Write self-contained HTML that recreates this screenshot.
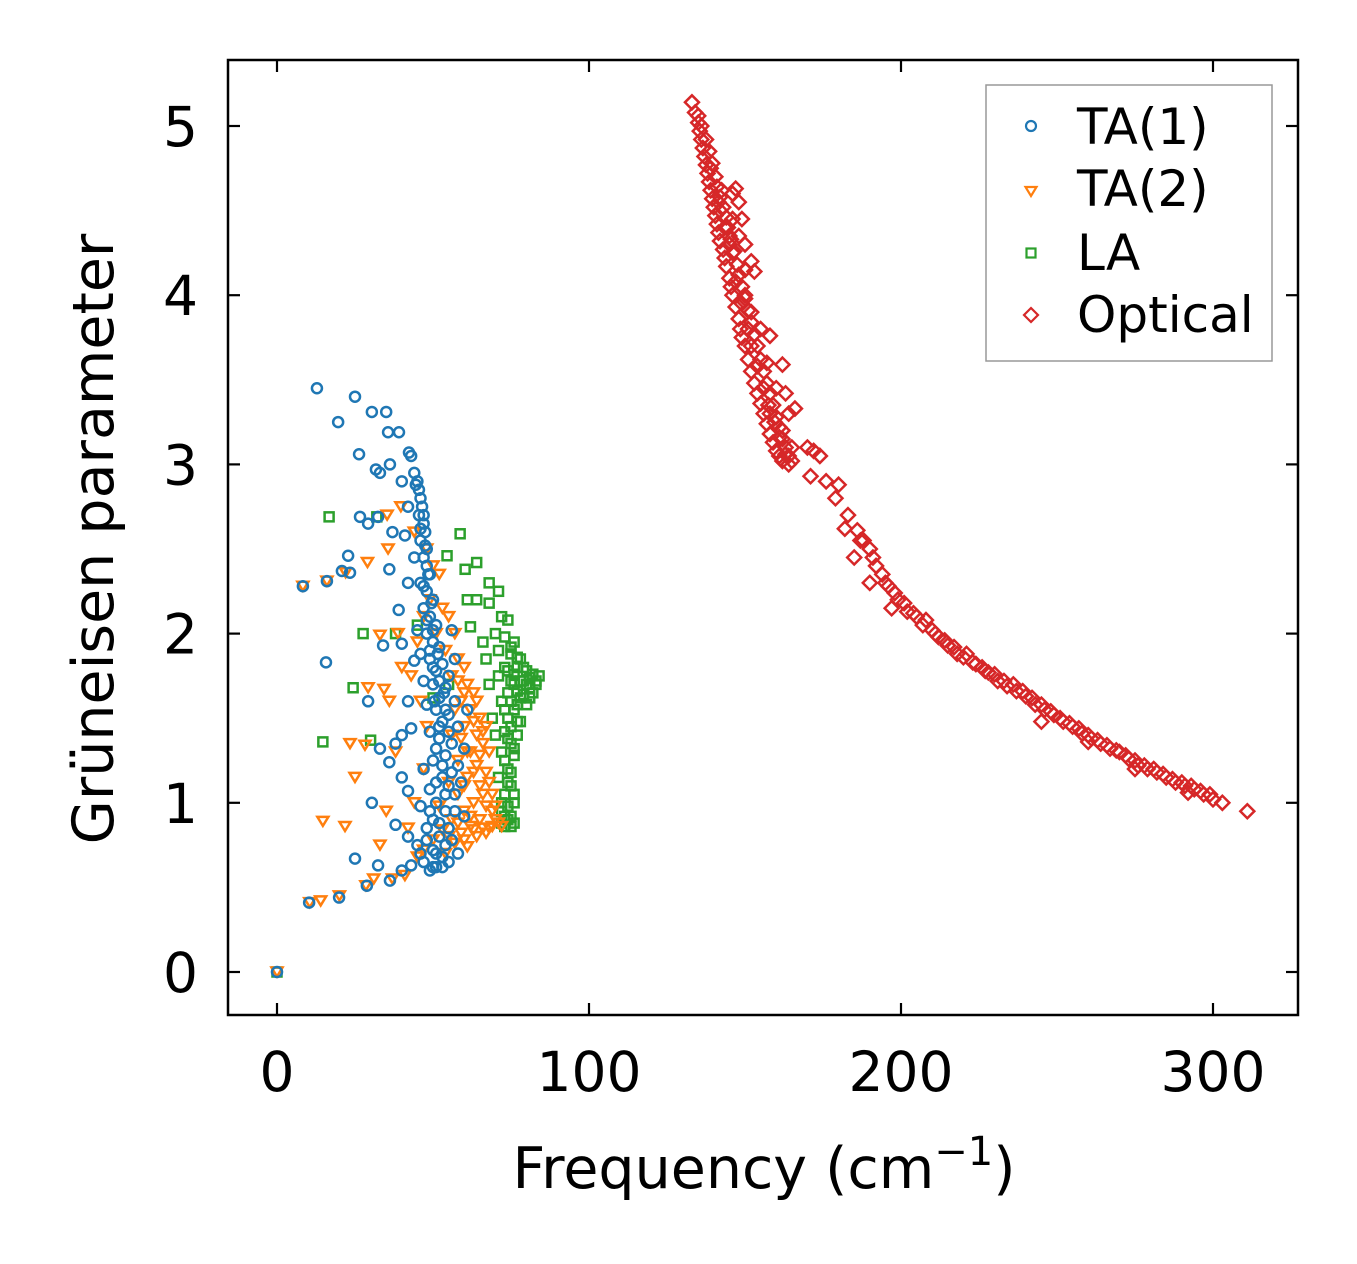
<!DOCTYPE html>
<html><head><meta charset="utf-8"><style>
html,body{margin:0;padding:0;background:#fff;}
svg{display:block;font-family:"DejaVu Sans","Liberation Sans",sans-serif;}
</style></head><body>
<svg id="chart" width="1357" height="1264" viewBox="0 0 1357 1264" xmlns="http://www.w3.org/2000/svg">
<rect width="1357" height="1264" fill="#fff"/>
<g id="marks"></g>
<g id="axes"></g>
<text x="764" y="1188" font-size="57" text-anchor="middle">Frequency (cm<tspan font-size="40" dy="-23">−1</tspan><tspan dy="23">)</tspan></text>
<text transform="translate(113,539) rotate(-90)" font-size="57" text-anchor="middle">Grüneisen parameter</text>
<g>
<rect x="986" y="85" width="286" height="276" fill="#fff" stroke="#999" stroke-width="1.5"/>
<circle cx="1031" cy="126" r="5" fill="none" stroke="#1f77b4" stroke-width="2.2"/>
<text x="1077" y="144" font-size="50">TA(1)</text>
<polygon points="1025.5,187 1036.5,187 1031,196" fill="none" stroke="#ff7f0e" stroke-width="2.2"/>
<text x="1077" y="206" font-size="50">TA(2)</text>
<rect x="1026.5" y="248.5" width="9" height="9" fill="none" stroke="#2ca02c" stroke-width="2.2"/>
<text x="1077" y="270" font-size="50">LA</text>
<polygon points="1031,308 1038,315 1031,322 1024,315" fill="none" stroke="#d62728" stroke-width="2.2"/>
<text x="1077" y="332" font-size="50">Optical</text>
</g>
</svg>
<script>
const xTicks=[0,100,200,300];
const yTicks=[0,1,2,3,4,5];
const ta1=[[12.8,3.45],[25,3.40],[19.6,3.25],[30.4,3.31],[35,3.31],[26.3,3.06],[35.6,3.19],[39.1,3.19],[31.7,2.97],[33,2.95],[36.2,3.0],[42.3,3.07],[26.6,2.69],[29.2,2.65],[32.4,2.69],[22.8,2.46],[20.8,2.37],[23.4,2.36],[15.7,1.83],[8.3,2.28],[16,2.31],[29.2,1.6],[30.4,1.0],[25,0.67],[32.4,0.63],[36.2,0.54],[10.3,0.41],[19.9,0.44],[28.8,0.51],[0,0],
[43,3.05],[44,2.95],[45,2.9],[45.5,2.85],[46,2.8],[46.5,2.75],[47,2.7],[47,2.65],[47.5,2.6],[46,2.55],[48,2.5],[44,2.45],[47,2.45],[48,2.4],[49,2.35],[46,2.3],[48,2.25],[50,2.2],[47,2.15],[49,2.1],[51,2.05],[45,2.02],[48,2.0],[50,1.95],[52,1.92],[46,1.88],[49,1.85],[53,1.82],[51,1.78],[55,1.75],[47,1.72],[50,1.7],[54,1.68],[52,1.62],[57,1.6],[48,1.58],[51,1.55],[55,1.52],[53,1.48],[58,1.45],[49,1.42],[52,1.38],[56,1.35],[60,1.32],[54,1.28],[50,1.25],[58,1.22],[47,1.2],[53,1.15],[55,1.1],[49,1.08],[57,1.05],[51,1.0],[46,0.98],[54,0.95],[60,0.92],[50,0.9],[48,0.85],[52,0.8],[56,0.78],[45,0.75],[50,0.72],[53,0.68],[47,0.65],[51,0.62],[49,0.6],[55,0.65],[58,0.7],[43,0.63],[40,0.6],[38,1.35],[36,1.24],[40,1.15],[42,1.07],[38,0.87],[42,0.8],[40,1.94],[39,2.14],[42,2.3],[37,2.6],[41,2.58],[42,1.6],[40,1.4],[43,1.44],[34,1.93],[44,1.84],[33,1.32],[36,2.38],[42,2.75],[40,2.9],
[44.5,2.88],[45.5,2.7],[46,2.62],[47.5,2.52],[48.5,2.35],[47,2.28],[49.5,2.18],[48,2.08],[50,2.02],[49,1.9],[51.5,1.88],[50,1.8],[52,1.72],[53.5,1.65],[50.5,1.6],[54,1.55],[52,1.45],[55,1.42],[51,1.32],[53,1.22],[56,1.18],[51,1.12],[54,1.05],[49,0.95],[52,0.88],[55,0.85],[48,0.78],[51,0.7],[53,0.62],[50,0.62],[54,0.75],[46,0.7],[57,0.95],[59,1.12],[61,1.55],[57,1.85],[56,2.02]];
const ta2=[[8.3,2.28],[16,2.31],[14.7,0.89],[21.8,0.86],[25,1.15],[23.4,1.35],[28.2,1.34],[29.2,1.68],[34.3,1.67],[33,1.99],[38.8,2.0],[35.6,2.5],[39.7,2.75],[35.3,2.7],[29,2.42],[10.5,0.41],[14,0.42],[20,0.45],[28.5,0.51],[22,2.36],[0,0],
[44,2.6],[48,2.5],[50,2.4],[52,2.35],[49,2.2],[53,2.15],[55,2.1],[51,2.0],[57,2.0],[54,1.9],[58,1.85],[60,1.8],[56,1.75],[61,1.7],[63,1.65],[59,1.6],[62,1.55],[65,1.5],[67,1.45],[60,1.45],[64,1.4],[66,1.35],[62,1.3],[68,1.3],[58,1.25],[64,1.22],[67,1.18],[61,1.15],[55,1.12],[65,1.1],[69,1.05],[58,1.05],[63,1.0],[67,0.98],[52,0.98],[60,0.95],[70,0.9],[65,0.9],[56,0.9],[62,0.86],[68,0.85],[72,0.86],[53,0.84],[59,0.82],[64,0.8],[50,0.78],[57,0.76],[61,0.74],[47,0.72],[54,0.7],[45,0.68],[42,0.85],[44,1.0],[47,1.2],[48,1.45],[46,1.6],[43,1.75],[45,1.95],[47,2.1],[40,1.8],[36,1.6],[38,1.3],[35,0.95],[33,0.75],[37,0.55],[41,0.57],[31,0.55],
[63,1.48],[66,1.42],[65,1.28],[63,1.18],[66,1.05],[69,0.95],[71,0.88],[66,0.85],[62,0.92],[60,1.1],[61,1.3],[59,1.38],[64,1.6],[60,1.65],[58,1.72],[57,1.55],[56,1.4],[58,0.88],[69,0.86],[67,0.82],[60,0.78],[55,0.8],[63,0.84],[70,0.98],[68,1.12]];
const la=[[16.7,2.69],[32,2.69],[58.7,2.59],[54.5,2.46],[60.3,2.38],[64,2.42],[68,2.3],[61,2.2],[64,2.2],[68,2.18],[71,2.25],[14.7,1.36],[24.4,1.68],[30,1.37],[27.6,2.0],[38,2.0],[45,2.05],[50,1.62],[55,1.7],[62,2.04],[66,1.95],[0,0],
[72,2.1],[74,2.08],[70,2.0],[73,1.98],[76,1.95],[71,1.9],[75,1.88],[78,1.85],[73,1.8],[77,1.8],[80,1.78],[82,1.76],[84,1.75],[79,1.72],[83,1.72],[76,1.7],[81,1.68],[74,1.65],[78,1.62],[82,1.65],[72,1.6],[76,1.55],[80,1.58],[74,1.5],[78,1.48],[73,1.42],[77,1.4],[75,1.35],[72,1.3],[76,1.28],[74,1.2],[71,1.15],[75,1.1],[73,1.05],[76,1.0],[72,0.95],[74,0.9],[76,0.88],[73,0.86],[68,1.7],[69,1.5],[67,1.85],[70,1.4],[71,1.75],
[75,1.92],[77,1.86],[79,1.8],[81,1.74],[83,1.7],[80,1.7],[78,1.72],[76,1.76],[74,1.78],[75,1.72],[77,1.66],[79,1.64],[81,1.62],[77,1.58],[75,1.6],[73,1.55],[75,1.45],[77,1.48],[74,1.38],[76,1.32],[73,1.25],[75,1.18],[74,1.12],[76,1.05],[74,0.98],[75,0.92],[72,0.88],[75,0.86],[73,0.92],[72,1.0]];
const optical=[[133,5.14],[134,5.08],[135,5.02],[135.5,4.97],[136,4.92],[136.5,4.87],[137,4.82],[137.5,4.77],[138,4.72],[138.5,4.67],[139,4.62],[139.5,4.57],[140,4.52],[140.5,4.47],[141,4.42],[141.5,4.37],[142,4.32],[143,4.27],[143.5,4.22],[144,4.17],[145,4.1],[145.5,4.05],[146,4.0],[147,3.93],[148,3.86],[148.5,3.8],[149,3.75],[150,3.7],[151,3.62],[152,3.55],[153,3.48],[154,3.42],[155,3.36],[156,3.3],[157,3.24],[158,3.18],[159,3.13],[160,3.08],[161,3.05],[162,3.02],[164,3.0],
[135,5.06],[136,5.0],[137.5,4.92],[138.5,4.85],[139.5,4.78],[140.5,4.7],[141,4.64],[142,4.58],[143,4.52],[144,4.46],[144.5,4.4],[145.5,4.33],[146.5,4.26],[147.5,4.18],[148,4.12],[149,4.05],[150,3.98],[151,3.91],[152,3.84],[153,3.77],[154,3.7],[155,3.62],[156,3.55],[157,3.48],[158,3.42],[159,3.35],[160,3.28],[161,3.22],[162,3.15],[163,3.1],[164,3.05],[165,3.02],
[139,4.75],[141.5,4.55],[143.5,4.4],[145,4.3],[147,4.08],[149,3.95],[151,3.8],[152,3.7],[154,3.58],[156,3.45],[157.5,3.35],[159.5,3.25],[161,3.16],[163,3.06],[142.5,4.62],[146,4.45],[148,4.35],[150,4.15],
[142,4.5],[144,4.4],[146,4.6],[147,4.63],[148,4.55],[149,4.45],[150,4.3],[152,4.2],[153,4.14],[146,4.25],[145,4.35],[150,4.0],[152,3.9],[155,3.8],[158,3.76],[157,3.6],[162,3.59],[160,3.45],[163,3.42],[164,3.3],[166,3.33],[158,3.3],[162,3.2],[165,3.1],[170,3.1],[172,3.08],[174,3.05],[171,2.93],[176,2.9],[180,2.88],[179,2.8],[183,2.7],[186,2.61],[182,2.62],[188,2.55],[190,2.5],[185,2.45],[192,2.4],[194,2.35],[190,2.3],[196,2.28],[199,2.2],[197,2.15],[202,2.13],[205,2.1],[207,2.05],[210,2.02],[212,1.98],[215,1.93],[218,1.88],[220,1.86],[223,1.83],[226,1.8],[228,1.77],[231,1.72],[234,1.69],[237,1.66],[240,1.63],[243,1.58],[246,1.55],[249,1.52],[252,1.48],[255,1.45],[258,1.41],[261,1.38],[264,1.35],[267,1.32],[270,1.3],[273,1.26],[276,1.22],[279,1.2],[282,1.18],[285,1.15],[288,1.12],[291,1.1],[294,1.08],[297,1.05],[300,1.02],[303,1.0],[311,0.95],[245,1.48],[260,1.36],[275,1.2],[292,1.06],
[187,2.55],[191,2.45],[195,2.3],[198,2.24],[201,2.18],[204,2.12],[208,2.08],[211,2.0],[214,1.96],[217,1.92],[221,1.88],[224,1.82],[227,1.78],[230,1.76],[233,1.72],[236,1.7],[239,1.66],[242,1.62],[245,1.58],[248,1.54],[251,1.5],[254,1.47],[257,1.44],[260,1.4],[263,1.37],[266,1.34],[269,1.31],[272,1.28],[275,1.25],[278,1.22],[281,1.2],[284,1.17],[287,1.14],[290,1.12],[293,1.1],[296,1.07],[299,1.05]];

const NS='http://www.w3.org/2000/svg';
const X0=228,X1=1298,Y0=60,Y1=1015;
function sx(v){return 277+v*3.12;}
function sy(v){return 972-v*169.2;}
function mk(tag,attrs,parent){const e=document.createElementNS(NS,tag);for(const k in attrs)e.setAttribute(k,attrs[k]);parent.appendChild(e);return e;}
const marks=document.getElementById('marks');
const axes=document.getElementById('axes');
function drawSeries(data,name,color,shape){
  const g=mk('g',{},marks);
  
  
  data.forEach(d=>{
    const x=sx(d[0]),y=sy(d[1]);let e;
    if(shape==='circle')e=mk('circle',{cx:x,cy:y,r:5,fill:'none',stroke:color,'stroke-width':2.5},g);
    else if(shape==='tri')e=mk('polygon',{points:`${x-5.5},${y-4.5} ${x+5.5},${y-4.5} ${x},${y+4.5}`,fill:'none',stroke:color,'stroke-width':2.5},g);
    else if(shape==='sq')e=mk('rect',{x:x-4.5,y:y-4.5,width:9,height:9,fill:'none',stroke:color,'stroke-width':2.5},g);
    else e=mk('polygon',{points:`${x},${y-7} ${x+7},${y} ${x},${y+7} ${x-7},${y}`,fill:'none',stroke:color,'stroke-width':2.5},g);
    
    
  });
}
drawSeries(optical,'optical','#d62728','dia');
drawSeries(la,'la','#2ca02c','sq');
drawSeries(ta2,'ta2','#ff7f0e','tri');
drawSeries(ta1,'ta1','#1f77b4','circle');

const frame=mk('rect',{x:X0,y:Y0,width:X1-X0,height:Y1-Y0,fill:'none',stroke:'#000','stroke-width':2.5},axes);


xTicks.forEach(v=>{
  const x=sx(v);
  mk('line',{x1:x,y1:Y1,x2:x,y2:Y1-12,stroke:'#000','stroke-width':2.2},axes);
  mk('line',{x1:x,y1:Y0,x2:x,y2:Y0+12,stroke:'#000','stroke-width':2.2},axes);
  const t=mk('text',{x:x,y:Y1+76,'font-size':55,'text-anchor':'middle'},axes);
  t.textContent=v;
  
  
});
yTicks.forEach(v=>{
  const y=sy(v);
  mk('line',{x1:X0,y1:y,x2:X0+12,y2:y,stroke:'#000','stroke-width':2.2},axes);
  mk('line',{x1:X1,y1:y,x2:X1-12,y2:y,stroke:'#000','stroke-width':2.2},axes);
  const t=mk('text',{x:X0-30,y:y+20,'font-size':55,'text-anchor':'end'},axes);
  t.textContent=v;
  
  
});
</script>
</body></html>
